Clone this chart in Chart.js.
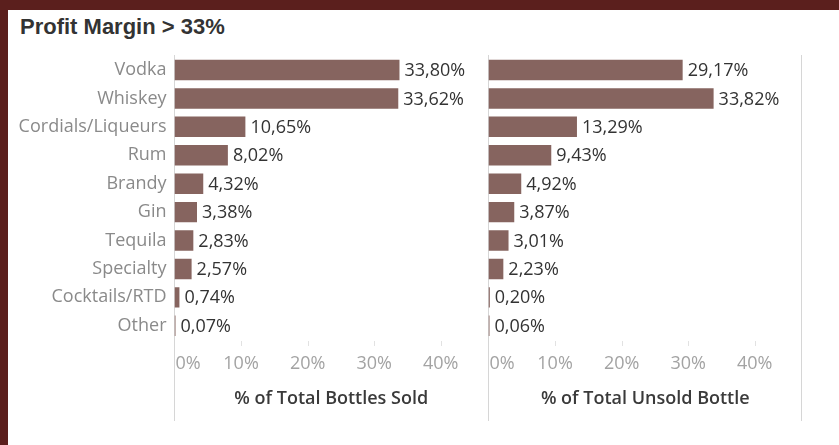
<!DOCTYPE html>
<html>
<head>
<meta charset="utf-8">
<script src="https://cdn.jsdelivr.net/npm/chart.js@4/dist/chart.umd.min.js"></script>
<style>
  html, body { margin: 0; padding: 0; }
  body { width: 839px; height: 445px; background: #5b1f1d; position: relative; overflow: hidden; }
  #panel { position: absolute; left: 8px; top: 10px; right: 0; bottom: 0; background: #fff; }
  #title { position: absolute; left: 20px; top: 14px; font: bold 22px "Liberation Sans", Arial, sans-serif; line-height: 25px; color: #333; }
  canvas { position: absolute; top: 0; }
  #sold { left: 0; }
  #unsold { left: 488px; }
</style>
</head>
<body>
<div id="panel"></div>
<div id="title">Profit Margin &gt; 33%</div>
<canvas id="sold" width="490" height="445"></canvas>
<canvas id="unsold" width="316" height="445"></canvas>
<script>
//DATA
const categories = ["Vodka", "Whiskey", "Cordials/Liqueurs", "Rum", "Brandy", "Gin", "Tequila", "Specialty", "Cocktails/RTD", "Other"];
const soldShare = [33.80, 33.62, 10.65, 8.02, 4.32, 3.38, 2.83, 2.57, 0.74, 0.07];
const unsoldShare = [29.17, 33.82, 13.29, 9.43, 4.92, 3.87, 3.01, 2.23, 0.20, 0.06];
const tickValues = [0, 10, 20, 30, 40];

const barColor = "#86645f";
const lineColor = "#d6d6d6";
const font = '"Open Sans", sans-serif';

const fmt = (v) => v.toFixed(2).replace(".", ",") + "%";

// panel frame, value labels, bottom ticks and axis title
const panelDecor = {
    id: "panelDecor",
    beforeDatasetsDraw(chart, args, opts) {
        const ctx = chart.ctx;
        const area = chart.chartArea;
        const xs = chart.scales.x;
        ctx.save();
        ctx.strokeStyle = lineColor;
        ctx.lineWidth = 1;
        const edges = opts.rightEdge ? [area.left, area.right] : [area.left];
        edges.forEach((x) => {
            const px = Math.round(x) - 0.5;
            ctx.beginPath();
            ctx.moveTo(px, 55);
            ctx.lineTo(px, 421);
            ctx.stroke();
        });
        // short tick marks
        ctx.strokeStyle = "#e2e2e2";
        tickValues.slice(1).forEach((v) => {
            const px = Math.round(xs.getPixelForValue(v)) + 0.5;
            ctx.beginPath();
            ctx.moveTo(px, 341);
            ctx.lineTo(px, 346);
            ctx.stroke();
        });
        ctx.restore();
    },
    afterDatasetsDraw(chart, args, opts) {
        const ctx = chart.ctx;
        const area = chart.chartArea;
        const xs = chart.scales.x;
        const meta = chart.getDatasetMeta(0);
        const values = chart.data.datasets[0].data;
        ctx.save();
        ctx.font = "18px " + font;
        ctx.fillStyle = "#333";
        ctx.textBaseline = "middle";
        ctx.textAlign = "left";
        meta.data.forEach((bar, i) => {
            ctx.fillText(fmt(values[i]), Math.max(bar.x, area.left + 1) + 5, bar.y + 1);
        });
        // tick labels
        ctx.fillStyle = "#a3a3a3";
        tickValues.forEach((v) => {
            const px = xs.getPixelForValue(v);
            ctx.textAlign = v === 0 ? "left" : "center";
            ctx.fillText(v + "%", v === 0 ? px + 1 : px, 364);
        });
        // axis title
        ctx.font = "600 18px " + font;
        ctx.fillStyle = "#3a3a3a";
        ctx.textAlign = "center";
        ctx.fillText(opts.axisTitle, (area.left + area.right) / 2, 399);
        ctx.restore();
    }
};

const makeChart = (canvas, values, axisTitle, showLabels, rightEdge) => {
    return new Chart(canvas, {
        type: "bar",
        data: {
            labels: categories,
            datasets: [{
                data: values,
                backgroundColor: barColor,
                barPercentage: 0.72,
                categoryPercentage: 1,
                minBarLength: 1
            }]
        },
        options: {
            indexAxis: "y",
            responsive: false,
            devicePixelRatio: 1,
            animation: false,
            layout: {
                padding: { top: 55.8, bottom: 105, left: showLabels ? 0 : 0.5, right: 2 }
            },
            scales: {
                x: {
                    display: false,
                    min: 0,
                    max: 47.1
                },
                y: {
                    display: showLabels,
                    grid: { display: false, drawTicks: false },
                    border: { display: false },
                    ticks: {
                        color: "#8a8a8a",
                        padding: 8,
                        font: { family: font, size: 18 }
                    },
                    afterFit: (scale) => { scale.width = showLabels ? 174.5 : 0; }
                }
            },
            plugins: {
                legend: { display: false },
                tooltip: { enabled: false },
                panelDecor: { axisTitle: axisTitle, rightEdge: rightEdge }
            }
        },
        plugins: [panelDecor]
    });
};

const soldChart = makeChart(document.querySelector("#sold"), soldShare, "% of Total Bottles Sold", true, false);
const unsoldChart = makeChart(document.querySelector("#unsold"), unsoldShare, "% of Total Unsold Bottle", false, true);
</script>
</body>
</html>
